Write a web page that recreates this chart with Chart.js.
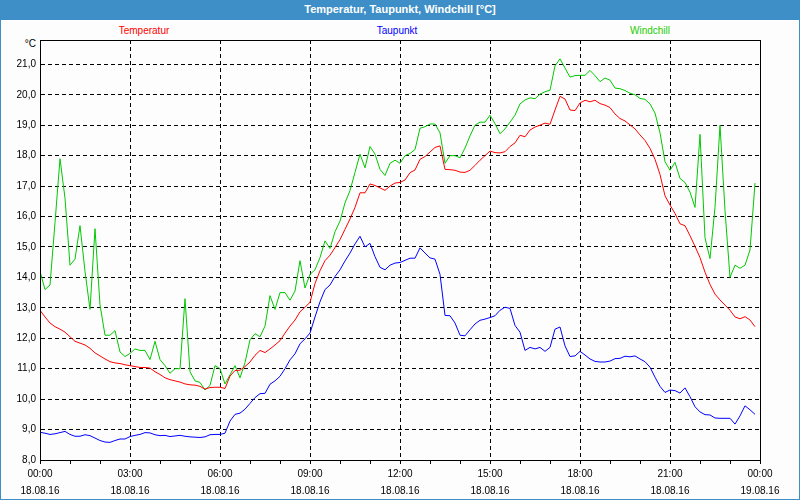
<!DOCTYPE html>
<html>
<head>
<meta charset="utf-8">
<title>Temperatur, Taupunkt, Windchill</title>
<script src="https://cdn.jsdelivr.net/npm/chart.js@4/dist/chart.umd.min.js"></script>
<style>
  html, body { margin: 0; padding: 0; background: #fff; }
  #frame { position: absolute; left: 0; top: 0; width: 798px; height: 498px; border: 1px solid #3e8fc7; background: #fcfdfc; }
  #title { position: absolute; left: 0; top: 0; width: 800px; height: 20px; background: #3e8fc7; color: #fff;
           font: bold 11px "Liberation Sans", Arial, sans-serif; text-align: center; line-height: 19px; }
  .lbl { position: absolute; font: 10px "Liberation Sans", Arial, sans-serif; white-space: nowrap; transform: translate(-50%, -50%); }
  #unit { position: absolute; right: 764px; top: 38px; font: 10px "Liberation Sans", Arial, sans-serif; color: #000; }
  canvas { position: absolute; left: 0; top: 0; }
</style>
</head>
<body>
<div id="frame"></div>
<div id="title">Temperatur, Taupunkt, Windchill [°C]</div>
<div class="lbl" style="left:144px; top:30px; color:#ff0000;">Temperatur</div>
<div class="lbl" style="left:397px; top:30px; color:#0000ff;">Taupunkt</div>
<div class="lbl" style="left:650px; top:30px; color:#22cc00;">Windchill</div>
<div id="unit">°C</div>
<canvas id="chart" width="800" height="500"></canvas>
<script>
// one reading every 10 minutes, 18.08.16 00:00 - 23:50
const minutes = Array.from({ length: 144 }, (_, i) => i * 10);

const temperatur = [
  12.92, 12.7, 12.5, 12.38, 12.3, 12.2, 12.05, 11.9, 11.84, 11.78, 11.67, 11.52, 11.42, 11.32, 11.23, 11.19, 11.17, 11.13, 11.1, 11.07, 11.04, 11.04, 11.02, 10.9, 10.81,
  10.7, 10.64, 10.6, 10.56, 10.5, 10.47, 10.46, 10.42, 10.33, 10.38, 10.39, 10.39, 10.35, 10.76, 10.94, 10.95, 11.07, 11.22, 11.44, 11.6, 11.53, 11.65, 11.78, 11.92,
  12.17, 12.4, 12.6, 12.87, 13.02, 13.18, 13.8, 14.22, 14.55, 14.73, 14.98, 15.24, 15.58, 15.92, 16.3, 16.78, 16.78, 17.07, 17.02, 16.94, 16.86, 17.0, 17.1, 17.12,
  17.2, 17.44, 17.53, 17.88, 17.97, 18.12, 18.27, 18.32, 17.55, 17.54, 17.52, 17.46, 17.45, 17.52, 17.68, 17.85, 18.0, 18.15, 18.1, 18.09, 18.13, 18.3, 18.42, 18.67,
  18.62, 18.84, 18.94, 19.0, 19.07, 19.03, 19.5, 19.95, 19.86, 19.5, 19.48, 19.73, 19.82, 19.77, 19.82, 19.71, 19.66, 19.58, 19.37, 19.22, 19.14, 19.01, 18.88, 18.68,
  18.5, 18.24, 17.88, 17.38, 16.68, 16.38, 16.1, 15.76, 15.7, 15.37, 15.02, 14.65, 14.17, 13.77, 13.45, 13.26, 13.09, 12.92, 12.7, 12.64, 12.71, 12.6, 12.38
];

const taupunkt = [
  8.91, 8.88, 8.84, 8.86, 8.9, 8.94, 8.84, 8.78, 8.78, 8.83, 8.8, 8.72, 8.64, 8.59, 8.58, 8.64, 8.69, 8.69, 8.77, 8.81, 8.84, 8.9, 8.89, 8.83, 8.8,
  8.81, 8.77, 8.79, 8.81, 8.78, 8.76, 8.75, 8.74, 8.76, 8.83, 8.84, 8.84, 8.88, 9.28, 9.5, 9.54, 9.67, 9.86, 10.05, 10.18, 10.19, 10.49, 10.6, 10.75,
  11.0, 11.29, 11.49, 11.82, 11.98, 12.17, 12.7, 13.2, 13.6, 13.75, 14.03, 14.25, 14.54, 14.8, 15.1, 15.35, 15.0, 15.12, 14.68, 14.33, 14.25, 14.4, 14.47, 14.49,
  14.56, 14.63, 14.63, 14.97, 14.8, 14.64, 14.6, 14.1, 12.75, 12.74, 12.5, 12.1, 12.08, 12.28, 12.47, 12.59, 12.63, 12.68, 12.74, 12.92, 13.02, 12.98, 12.42, 12.2,
  11.6, 11.7, 11.65, 11.7, 11.57, 11.7, 12.3, 12.37, 11.75, 11.4, 11.42, 11.57, 11.45, 11.32, 11.24, 11.22, 11.22, 11.25, 11.33, 11.34, 11.41, 11.39, 11.42, 11.32,
  11.23, 11.05, 10.72, 10.42, 10.22, 10.3, 10.28, 10.2, 10.37, 10.08, 9.75, 9.58, 9.49, 9.48, 9.38, 9.37, 9.37, 9.37, 9.18, 9.45, 9.78, 9.65, 9.5
];

const windchill = [
  14.2, 13.6, 13.75, 15.8, 17.9, 16.6, 14.4, 14.6, 15.7, 14.2, 12.95, 15.6, 13.1, 12.1, 12.1, 12.25, 11.55, 11.4, 11.5, 11.65, 11.6, 11.6, 11.3, 11.9, 11.3,
  11.1, 10.85, 11.0, 11.0, 13.3, 10.9, 10.6, 10.55, 10.3, 10.45, 11.1, 11.0, 10.5, 10.8, 11.1, 10.7, 11.2, 11.95, 12.15, 12.05, 12.4, 13.4, 12.95, 13.5,
  13.5, 13.25, 13.55, 14.55, 13.65, 14.1, 14.25, 14.65, 15.2, 14.95, 15.5, 15.85, 16.45, 16.85, 17.45, 18.05, 17.6, 18.3, 18.05, 17.55, 17.35, 17.75, 17.85, 17.75,
  18.0, 18.07, 18.2, 18.9, 18.95, 19.04, 19.04, 18.75, 17.75, 18.0, 18.0, 17.93, 18.25, 18.65, 19.0, 19.1, 19.1, 19.33, 19.05, 18.72, 18.88, 19.1, 19.33, 19.7,
  19.83, 19.9, 19.87, 20.02, 20.1, 20.15, 20.95, 21.18, 20.88, 20.58, 20.63, 20.64, 20.64, 20.8, 20.63, 20.43, 20.55, 20.48, 20.22, 20.2, 20.14, 20.05, 20.0, 19.88,
  19.85, 19.7, 19.4, 18.75, 17.8, 17.52, 17.78, 17.25, 17.12, 16.8, 16.3, 18.7, 15.3, 14.62, 16.3, 19.0, 16.2, 14.0, 14.4, 14.3, 14.4, 14.9, 17.1
];

// x axis labels every 3 hours
const timeLabels = ['00:00', '03:00', '06:00', '09:00', '12:00', '15:00', '18:00', '21:00', '00:00'];
const dateLabels = ['18.08.16', '18.08.16', '18.08.16', '18.08.16', '18.08.16', '18.08.16', '18.08.16', '18.08.16', '19.08.16'];

const toPoints = (values) => values.map((v, i) => ({ x: minutes[i], y: v }));

const tickFont = { family: '"Liberation Sans", Arial, sans-serif', size: 10, lineHeight: 1.65 };

// frame round the plot area
const boxPlugin = {
  id: 'box',
  afterDraw(chart) {
    const { ctx, chartArea } = chart;
    ctx.save();
    ctx.strokeStyle = '#000';
    ctx.lineWidth = 1;
    ctx.strokeRect(Math.round(chartArea.left) + 0.5, Math.round(chartArea.top) + 0.5,
      Math.round(chartArea.right - chartArea.left), Math.round(chartArea.bottom - chartArea.top));
    ctx.restore();
  }
};

new Chart(document.getElementById('chart'), {
  type: 'line',
  data: {
    datasets: [
      { label: 'Temperatur', data: toPoints(temperatur), borderColor: '#ff0000' },
      { label: 'Taupunkt', data: toPoints(taupunkt), borderColor: '#0000ff' },
      { label: 'Windchill', data: toPoints(windchill), borderColor: '#00c800' }
    ]
  },
  options: {
    responsive: false,
    animation: false,
    layout: { padding: { left: 0, right: 40, top: 40, bottom: 0 } },
    elements: {
      line: { borderWidth: 1, tension: 0 },
      point: { radius: 0 }
    },
    plugins: {
      legend: { display: false },
      tooltip: { enabled: false }
    },
    scales: {
      x: {
        type: 'linear',
        min: 0,
        max: 1440,
        afterFit: (scale) => { scale.height = 40; },
        border: { color: '#000', width: 1, dash: [4, 3] },
        grid: {
          color: (c) => (c.tick && c.tick.value % 180 === 0 ? '#000' : 'rgba(0,0,0,0)'),
          tickColor: '#000',
          tickLength: 4,
          lineWidth: 1
        },
        ticks: {
          stepSize: 60,
          autoSkip: false,
          maxRotation: 0,
          padding: 2,
          color: '#000',
          font: tickFont,
          callback: (value) => {
            if (value % 180 !== 0) return '';
            const i = value / 180;
            return [timeLabels[i], dateLabels[i]];
          }
        }
      },
      y: {
        min: 8,
        max: 21.8,
        afterFit: (scale) => { scale.width = 40; },
        border: { color: '#000', width: 1, dash: [4, 3] },
        grid: { color: '#000', lineWidth: 1, drawTicks: false },
        ticks: {
          stepSize: 1,
          includeBounds: false,
          padding: 4,
          color: '#000',
          font: { family: '"Liberation Sans", Arial, sans-serif', size: 10 },
          callback: (value) => value.toFixed(1).replace('.', ',')
        }
      }
    }
  },
  plugins: [boxPlugin]
});
</script>
</body>
</html>
